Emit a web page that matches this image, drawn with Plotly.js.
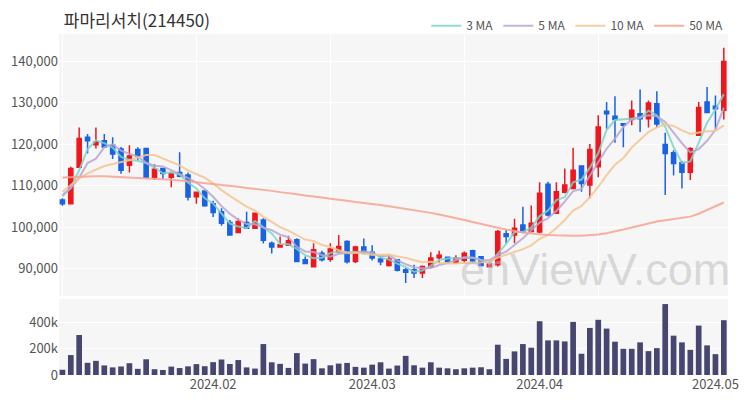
<!DOCTYPE html>
<html>
<head>
<meta charset="utf-8">
<script src="https://cdn.plot.ly/plotly-3.0.1.min.js"></script>
<style>html,body{margin:0;padding:0;background:#fff;}#chart{width:750px;height:400px;}</style>
</head>
<body>
<div id="chart"></div>
<script>
const dates = [
"2024-01-08","2024-01-09","2024-01-10","2024-01-11","2024-01-12","2024-01-15","2024-01-16","2024-01-17","2024-01-18","2024-01-19",
"2024-01-22","2024-01-23","2024-01-24","2024-01-25","2024-01-26","2024-01-29","2024-01-30","2024-01-31",
"2024-02-01","2024-02-02","2024-02-05","2024-02-06","2024-02-07","2024-02-08","2024-02-13","2024-02-14","2024-02-15","2024-02-16",
"2024-02-19","2024-02-20","2024-02-21","2024-02-22","2024-02-23","2024-02-26","2024-02-27","2024-02-28","2024-02-29",
"2024-03-04","2024-03-05","2024-03-06","2024-03-07","2024-03-08","2024-03-11","2024-03-12","2024-03-13","2024-03-14","2024-03-15",
"2024-03-18","2024-03-19","2024-03-20","2024-03-21","2024-03-22","2024-03-25","2024-03-26","2024-03-27","2024-03-28","2024-03-29",
"2024-04-01","2024-04-02","2024-04-03","2024-04-04","2024-04-05","2024-04-08","2024-04-09","2024-04-11","2024-04-12",
"2024-04-15","2024-04-16","2024-04-17","2024-04-18","2024-04-19","2024-04-22","2024-04-23","2024-04-24","2024-04-25","2024-04-26",
"2024-04-29","2024-04-30","2024-05-02","2024-05-03"];

const open = [106600,105700,114500,121700,119900,120900,119800,118900,115000,118800,
119000,112100,114200,112100,113200,112600,107400,108800,105700,103800,
101200,98800,101200,99800,101800,96200,95300,95700,97000,92200,
90500,93800,92300,94000,96600,91800,95300,94000,92400,90800,
92200,89800,89800,89000,90500,92700,92800,91500,92100,94400,
92900,90500,91000,98500,98200,100600,99000,98900,110400,103400,
108500,109400,114800,110200,114600,128000,126800,125000,126000,127400,
126200,129800,120000,118000,115600,113300,122200,130200,129200,128200];
const high = [107000,114600,124100,122500,124100,122500,121700,119400,119800,119300,
119100,115200,114400,113400,118100,113200,108600,108900,106400,104600,
101800,102200,103800,103600,102200,96600,97800,98000,97400,93000,
96200,94400,96200,98200,96900,95600,97300,95700,93200,93200,
92300,90300,91000,90800,94000,94400,93000,93300,94200,94600,
93000,91300,99400,99400,102100,105000,105300,110900,111000,110900,
114200,119200,114900,120100,127000,130200,131600,125100,130600,133200,
130600,132800,122800,118600,116000,119300,130200,133800,131800,143300];
const low = [105200,105700,114500,117800,119000,119200,116500,112900,113200,116200,
111800,111400,111700,109700,112100,106500,105700,105000,102500,100400,
98100,98600,99600,99700,96100,93700,95200,95600,91600,91200,
90400,91800,91700,93800,91300,91400,93800,92000,90900,90600,
89400,86600,87800,87800,90200,91400,91500,91300,91500,91500,
90600,90400,90600,96200,96200,98600,98800,98600,102600,103300,
108200,109200,108600,107000,112100,123800,120400,119300,124600,123000,
124100,124100,107800,112500,109400,111400,122000,127600,123800,126000];
const close = [105700,114200,121400,120900,120600,119400,117700,113800,117200,117200,
112100,114000,113000,112900,112300,107300,108500,105200,103600,101000,
98200,101400,99800,103400,96900,95300,95800,96800,91800,91300,
94600,92200,94800,95400,91700,95300,94000,92600,91700,92400,
89700,89200,89000,90600,92600,93300,91700,92600,93800,91900,
90800,91200,99000,97800,99800,99000,101000,108200,103000,108600,
110200,113800,110600,118800,124200,127400,126000,124600,128200,126200,
130000,124900,117800,115400,113300,119000,128900,127700,128600,140000];

const ma3 = [107500,109500,113767,118833,120967,120300,119233,116967,116233,116067,
115500,114433,113033,113300,112733,110833,109367,107000,105767,103267,
100933,100200,99800,101533,100033,98533,96000,95967,94800,93300,
92567,92700,93867,94133,93967,94133,93667,93967,92767,92233,
91267,90433,89300,89600,90733,92167,92533,92533,92700,92767,
92167,91300,93667,96000,98867,98867,99933,102733,104067,106600,
107267,110867,111533,114400,117867,123467,125867,126000,126267,126333,
128133,127033,124233,119367,115500,115900,120400,125200,128400,132100];
const ma5 = [107800,109500,112000,115500,116560,119300,120000,118480,117740,117060,
115600,114860,114700,113840,112860,111900,110800,109240,107380,105120,
103300,101880,100800,100760,99940,99360,98240,97640,95320,94200,
94060,93340,92940,93660,93740,93880,94240,93800,93060,93200,
92080,91120,90400,90180,90220,90940,91440,92160,92800,92660,
92160,92060,93340,94140,95720,97360,99320,101160,102200,103960,
106200,108760,109240,112400,115520,118960,121400,124200,126080,126480,
127000,126780,125420,122860,120280,118080,118880,120860,123500,128840];
const ma10 = [108600,110300,111800,113000,114000,114800,115300,115700,116200,116810,
117450,117430,116590,115790,114960,113750,112830,111970,110610,108990,
107600,106340,105020,104070,102530,101330,100060,99220,98040,97070,
96710,95790,95290,94490,93970,93970,93790,93370,93360,93470,
92980,92680,92100,91620,91710,91510,91280,91280,91490,91440,
91550,91750,92750,93470,94190,94760,95690,97250,98170,99840,
101780,104040,105200,107300,109740,112580,115080,116720,119240,121000,
122980,124090,124810,124470,123380,122540,122830,123140,123200,124580];
const ma50 = [112000,112100,112200,112200,112300,112300,112200,112200,112100,112000,
111900,111800,111600,111500,111300,111100,110900,110700,110500,110300,
110000,109800,109500,109300,109000,108800,108500,108300,108000,107700,
107500,107200,106900,106700,106400,106100,105900,105600,105400,105100,
104800,104500,104200,103900,103500,103100,102700,102300,101800,101300,
100800,100300,99900,99500,99100,98800,98500,98300,98200,98100,
98000,98000,98000,98100,98300,98600,99000,99500,100000,100500,
101000,101400,101700,102000,102300,102600,103300,104200,105100,106000];

const volume = [40000,152000,305000,93000,108000,73000,58000,65000,90000,47000,
120000,44000,38000,64000,53000,66000,83000,67000,98000,118000,
84000,114000,58000,49000,236000,97000,85000,54000,167000,87000,
121000,51000,74000,87000,92000,62000,56000,79000,97000,49000,
72000,146000,74000,56000,97000,56000,51000,44000,51000,56000,
59000,44000,231000,123000,180000,236000,208000,410000,264000,264000,
256000,405000,162000,359000,421000,354000,254000,200000,200000,249000,
182000,205000,541000,300000,249000,192000,377000,226000,159000,418000];

const monthTickDates = ["2024-02-01","2024-03-04","2024-04-01","2024-05-02"];
const monthTickLabels = ["2024.02","2024.03","2024.04","2024.05"];
const gridDates = [dates[0], dates[16], dates[32], dates[48], dates[64]];
const maNames = ["3 MA","5 MA","10 MA","50 MA"];
const maColors = ["#7ed3c8","#b7a6d1","#f4c48f","#f7a291"];

const RED = "#f0161e", BLUE = "#1a62e4";
const FONT = "Noto Sans CJK KR, Noto Sans, sans-serif";

const traces = [];
traces.push({
  type: "candlestick", x: dates, open: open, high: high, low: low, close: close,
  xaxis: "x", yaxis: "y", showlegend: false, hoverinfo: "skip",
  increasing: {line: {color: RED, width: 1.5}, fillcolor: RED},
  decreasing: {line: {color: BLUE, width: 1.5}, fillcolor: BLUE},
  whiskerwidth: 0
});
[ma3, ma5, ma10, ma50].forEach((arr, k) => {
  traces.push({
    type: "scatter", mode: "lines", x: dates, y: arr, name: maNames[k],
    xaxis: "x", yaxis: "y", line: {color: maColors[k], width: 2}, opacity: 0.85,
    hoverinfo: "skip"
  });
});
traces.push({
  type: "bar", x: dates, y: volume, xaxis: "x2", yaxis: "y2",
  marker: {color: "#464670"}, showlegend: false, hoverinfo: "skip"
});

const xr = [-0.41, 79.5];
const layout = {
  width: 750, height: 400,
  margin: {l: 59, r: 22, t: 34, b: 25, autoexpand: false},
  paper_bgcolor: "#ffffff", plot_bgcolor: "#f6f6f6",
  font: {family: FONT, color: "#555", size: 13},
  title: {text: "파마리서치(214450)", font: {family: FONT, size: 17, color: "#333"},
          x: 0.085, xref: "container", xanchor: "left", y: 0.948, yref: "container", yanchor: "middle",
          automargin: false},
  showlegend: true,
  legend: {orientation: "h", x: 0.971, xref: "container", xanchor: "right",
           y: 0.972, yref: "container", yanchor: "top",
           font: {size: 12, color: "#555"}, bgcolor: "rgba(0,0,0,0)", itemwidth: 30},
  bargap: 0.32,
  xaxis: {type: "category", range: xr, domain: [0, 1], anchor: "y",
          tickmode: "array", tickvals: gridDates, showticklabels: false, ticks: "",
          showgrid: true, gridcolor: "#ffffff", gridwidth: 1, zeroline: false,
          rangeslider: {visible: false}, showline: false, fixedrange: true},
  yaxis: {domain: [0.232, 1], range: [83500, 146600], dtick: 10000, tick0: 0,
          tickformat: ",d", showgrid: true, gridcolor: "#ffffff", gridwidth: 1,
          zeroline: false, ticks: "", tickfont: {size: 13, color: "#555"}},
  xaxis2: {type: "category", range: xr, domain: [0, 1], anchor: "y2",
           tickmode: "array", tickvals: monthTickDates, ticktext: monthTickLabels,
           showgrid: false, zeroline: false, ticks: "", tickfont: {size: 13, color: "#555"}},
  yaxis2: {domain: [0, 0.223], range: [0, 580000], tickvals: [0, 200000, 400000],
           tickformat: "~s", showgrid: true, gridcolor: "#ffffff", gridwidth: 1,
           zeroline: false, ticks: "", tickfont: {size: 13, color: "#555"}},
  annotations: [{
    text: "enViewV.com", xref: "paper", yref: "paper", x: 0.801, y: 0.31,
    xanchor: "center", yanchor: "middle", showarrow: false,
    font: {family: "Liberation Sans, Arial, sans-serif", size: 45, color: "rgba(185,185,185,0.5)"}
  }]
};

Plotly.newPlot("chart", traces, layout, {displayModeBar: false, staticPlot: true});
</script>
</body>
</html>
